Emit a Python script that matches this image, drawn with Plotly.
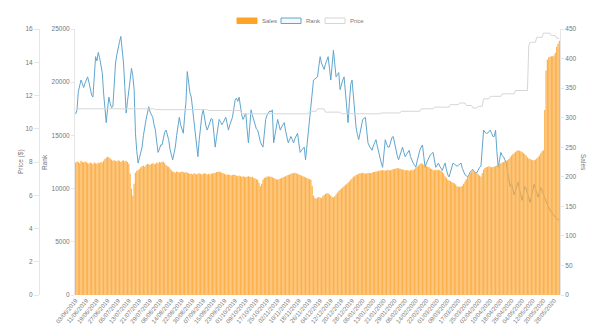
import pandas as pd
import plotly.graph_objects as go

# Daily categories, one bar / point per day
dates = pd.date_range("2019-06-03", periods=365, freq="D").strftime("%d/%m/%Y").tolist()
tick_labels = dates[::8]

sales = [
    224, 226, 225, 223, 227, 225, 224, 226, 225, 223,
    222, 224, 223, 221, 224, 223, 222, 224, 223, 225,
    224, 227, 230, 232, 234, 233, 231, 229, 227, 228,
    227, 226, 228, 227, 225, 227, 228, 226, 227, 225,
    222, 205, 180, 168, 188, 207, 210, 211, 213, 216,
    218, 219, 217, 220, 222, 221, 220, 222, 223, 221,
    222, 224, 223, 225, 224, 225, 226, 223, 220, 218,
    217, 214, 211, 209, 208, 207, 209, 208, 207, 208,
    209, 208, 207, 208, 207, 206, 205, 205, 204, 206,
    205, 204, 205, 206, 205, 204, 205, 206, 205, 204,
    205, 204, 205, 206, 206, 207, 208, 208, 209, 208,
    207, 206, 205, 204, 203, 204, 203, 202, 203, 204,
    203, 202, 201, 202, 201, 200, 201, 200, 199, 200,
    201, 200, 199, 200, 198, 197, 196, 195, 190, 184,
    188, 195, 198, 199, 200, 201, 200, 200, 199, 198,
    197, 196, 195, 196, 197, 198, 199, 200, 201, 202,
    203, 204, 205, 206, 206, 207, 206, 205, 204, 203,
    202, 201, 200, 199, 198, 197, 196, 195, 185, 168,
    164, 163, 165, 166, 165, 164, 167, 169, 171, 172,
    172, 170, 168, 166, 165, 167, 170, 173, 176, 178,
    180, 182, 184, 186, 188, 190, 192, 195, 197, 200,
    201, 203, 204, 205, 206, 206, 207, 206, 205, 206,
    206, 207, 206, 207, 208, 208, 209, 209, 210, 210,
    211, 211, 211, 210, 211, 212, 211, 211, 212, 213,
    213, 214, 215, 214, 214, 213, 212, 212, 211, 211,
    211, 210, 211, 212, 211, 213, 215, 217, 219, 221,
    223, 222, 220, 219, 218, 217, 216, 214, 213, 211,
    211, 212, 211, 212, 211, 210, 208, 205, 201, 198,
    195, 194, 193, 191, 190, 189, 187, 184, 183, 183,
    183, 185, 188, 192, 196, 200, 203, 206, 209, 211,
    209, 207, 206, 204, 202, 200, 206, 212, 215, 216,
    217, 218, 217, 216, 217, 217, 218, 219, 220, 222,
    223, 224, 225, 226, 227, 228, 230, 233, 236, 238,
    240, 242, 244, 245, 244, 243, 242, 240, 238, 236,
    233, 231, 230, 229, 228, 228, 229, 231, 233, 236,
    240, 243, 245, 313, 380, 398, 402, 403, 404, 404,
    405, 410, 420, 425, 430,
]

rank = [
    17000, 17400, 19100, 19800, 20200, 19900, 19500, 19900, 20300, 20500,
    20000, 19300, 18800, 18600, 20500, 22400, 22000, 22800, 22300, 21500,
    20900, 19000, 17200, 16200, 17500, 18600, 18000, 17600, 17700, 19800,
    21800, 22600, 23400, 23800, 24300, 23000, 21800, 19500, 17100, 18200,
    19000, 20200, 21300, 20600, 19300, 15200, 13500, 12400, 12900, 13500,
    13900, 15000, 15900, 16500, 17100, 17700, 17200, 16900, 16700, 16000,
    15500, 14400, 13400, 13700, 14100, 14100, 14700, 15300, 15500, 15000,
    14600, 13700, 13000, 12700, 13300, 13900, 15000, 16000, 16700, 16000,
    15500, 15200, 16800, 18100, 21000, 19800, 19000, 18600, 17500, 16500,
    15000, 13800, 13000, 14600, 16200, 16900, 17400, 16500, 15900, 15500,
    15800, 16200, 16600, 16500, 15200, 13900, 14800, 15700, 16500, 16300,
    16000, 16200, 16500, 16700, 16100, 15500, 16000, 16400, 16700, 17500,
    18300, 18500, 18200, 18600, 17500, 16900, 16500, 16800, 17100, 15600,
    14300, 15800, 17400, 16900, 16500, 16000, 15600, 15500, 14900, 14400,
    14100, 13900, 15200, 16500, 16900, 17100, 17300, 17200, 17400, 14300,
    15200, 16000, 16500, 16000, 15500, 15800, 16000, 16200, 15400, 14800,
    14300, 14600, 14900, 14600, 14300, 14700, 15000, 15200, 14200, 13400,
    13600, 13800, 13900, 12700, 14000, 15500, 16900, 18300, 19300, 20200,
    20300, 20400, 20500, 21500, 22400, 21800, 21400, 21200, 21700, 22100,
    22400, 21300, 20200, 21600, 23000, 21700, 20500, 20700, 20900, 19300,
    19800, 20200, 20500, 19000, 17500, 16200, 18100, 19800, 20200, 18400,
    16800, 15800, 15100, 14600, 15200, 15900, 16500, 16600, 16700, 15500,
    14300, 14000, 13800, 13600, 14000, 14300, 14600, 14000, 13400, 12900,
    12400, 12000, 13300, 14600, 14200, 13900, 13900, 14400, 14800, 14900,
    14200, 13600, 13100, 12700, 13100, 13500, 13900, 13400, 13000, 13200,
    13400, 13600, 13000, 12600, 12400, 12200, 12000, 12600, 13300, 13600,
    13900, 14100, 13000, 12000, 12400, 12700, 13000, 13200, 13300, 13400,
    12700, 12000, 12200, 12400, 12100, 11900, 11700, 12100, 12400, 11800,
    11300, 11100, 11500, 11800, 12400, 12300, 12200, 12100, 12200, 12300,
    12400, 11900, 11500, 11300, 11200, 11100, 11300, 11600, 11700, 11800,
    11600, 11500, 11500, 11800, 12000, 12100, 14000, 15500, 15300, 15200,
    15200, 15400, 15500, 15200, 14900, 14900, 15500, 13500, 12000, 12700,
    13400, 13100, 13000, 12700, 12400, 11600, 10800, 10200, 10500, 10000,
    9400, 9800, 10300, 10600, 9900, 9300, 8900, 9500, 10200, 10000,
    9600, 9100, 8700, 9300, 9900, 10400, 10000, 9500, 9200, 9600,
    10100, 9800, 9400, 9100, 8800, 8500, 8200, 8000, 7800, 7600,
    7400, 7300, 7200, 7100, 7000,
]

price = [
    11.2, 11.2, 11.2, 11.2, 11.2, 11.2, 11.2, 11.2, 11.2, 11.2,
    11.2, 11.2, 11.2, 11.2, 11.2, 11.2, 11.2, 11.2, 11.2, 11.2,
    11.2, 11.2, 11.2, 11.2, 11.2, 11.2, 11.2, 11.2, 11.2, 11.2,
    11.2, 11.2, 11.2, 11.2, 11.2, 11.2, 11.2, 11.2, 11.2, 11.2,
    11.2, 11.2, 11.2, 11.2, 11.2, 11.2, 11.2, 11.2, 11.2, 11.2,
    11.2, 11.2, 11.2, 11.2, 11.2, 11.2, 11.2, 11.2, 11.2, 11.2,
    11.15, 11.15, 11.15, 11.15, 11.15, 11.15, 11.15, 11.15, 11.15, 11.15,
    11.15, 11.15, 11.15, 11.15, 11.15, 11.15, 11.15, 11.15, 11.15, 11.15,
    11.15, 11.15, 11.15, 11.15, 11.15, 11.15, 11.15, 11.15, 11.15, 11.15,
    11.15, 11.15, 11.15, 11.15, 11.15, 11.15, 11.15, 11.15, 11.15, 11.15,
    11.1, 11.1, 11.1, 11.1, 11.1, 11.1, 11.1, 11.1, 11.1, 11.1,
    11.1, 11.1, 11.1, 11.1, 11.1, 11.1, 11.1, 11.1, 11.1, 11.1,
    11.1, 11.1, 11.1, 11.1, 11.1, 10.9, 10.9, 10.9, 10.9, 10.9,
    10.9, 10.9, 10.9, 10.9, 10.9, 10.9, 10.9, 10.9, 10.9, 10.9,
    10.9, 10.9, 10.9, 10.9, 10.9, 10.9, 10.9, 10.9, 10.9, 10.9,
    10.9, 10.9, 10.9, 10.9, 10.9, 10.9, 10.9, 10.9, 10.9, 10.9,
    10.9, 10.9, 10.9, 10.9, 10.9, 10.9, 10.9, 10.9, 10.9, 10.9,
    10.9, 10.9, 10.9, 10.9, 10.9, 10.9, 11.05, 11.05, 11.05, 11.05,
    11.05, 11.05, 11.2, 11.2, 11.2, 11.2, 11.2, 11.2, 11.0, 11.0,
    11.0, 11.0, 11.0, 11.0, 11.0, 11.0, 11.0, 11.0, 11.0, 11.0,
    10.9, 10.9, 10.9, 10.9, 10.9, 10.9, 10.9, 10.9, 10.9, 10.9,
    10.9, 10.9, 10.9, 10.9, 10.9, 10.9, 10.9, 10.9, 10.9, 10.9,
    10.9, 10.9, 10.9, 10.9, 10.9, 10.9, 10.9, 10.9, 10.9, 10.9,
    10.95, 10.95, 10.95, 10.95, 10.95, 10.95, 10.95, 10.95, 10.95, 10.95,
    10.95, 10.95, 10.95, 10.95, 10.95, 11.05, 11.05, 11.05, 11.05, 11.05,
    11.05, 11.05, 11.05, 11.05, 11.05, 11.05, 11.05, 11.05, 11.05, 11.05,
    11.2, 11.2, 11.2, 11.2, 11.2, 11.2, 11.2, 11.2, 11.2, 11.2,
    11.3, 11.3, 11.3, 11.3, 11.3, 11.3, 11.3, 11.3, 11.3, 11.3,
    11.3, 11.3, 11.45, 11.45, 11.45, 11.45, 11.45, 11.45, 11.45, 11.55,
    11.55, 11.55, 11.55, 11.55, 11.4, 11.4, 11.4, 11.4, 11.4, 11.25,
    11.25, 11.25, 11.25, 11.35, 11.35, 11.35, 11.35, 11.8, 11.8, 11.8,
    11.8, 11.8, 11.95, 11.95, 11.95, 11.95, 11.95, 11.95, 11.95, 11.95,
    11.95, 12.1, 12.1, 12.1, 12.1, 12.1, 12.1, 12.1, 12.1, 12.1,
    12.1, 12.3, 12.3, 12.3, 12.3, 12.3, 12.3, 12.3, 12.3, 12.3,
    12.3, 15.0, 15.2, 15.2, 15.2, 15.2, 15.2, 15.5, 15.5, 15.5,
    15.5, 15.5, 15.75, 15.75, 15.75, 15.75, 15.75, 15.75, 15.6, 15.6,
    15.6, 15.6, 15.45, 15.45, 15.45,
]

W, H = 602, 336
FONT = "Liberation Sans, Arial, sans-serif"
TXT = "#777777"
SALES_FILL = "rgba(252,168,58,0.9)"
RANK_COL = "rgb(96,166,206)"
PRICE_COL = "#d6d6d6"
AXIS_COL = "#e6e6e6"


def fx(x):
    return x / W


def fy(y):
    return 1 - y / H


fig = go.Figure()
# Lines sit on the base and first overlay; the sales bars go on the last
# overlay so they are painted over both lines.
fig.add_trace(go.Scatter(x=dates, y=rank, name="Rank", mode="lines",
                         line=dict(color=RANK_COL, width=1), yaxis="y"))
fig.add_trace(go.Scatter(x=dates, y=price, name="Price", mode="lines",
                         line=dict(color=PRICE_COL, width=1), yaxis="y2"))
fig.add_trace(go.Bar(x=dates, y=sales, name="Sales",
                     marker=dict(color=SALES_FILL, line=dict(width=0)), yaxis="y3"))

tick_font = dict(family=FONT, size=6.5, color=TXT)
y_dom = [fy(295), fy(29)]

fig.update_layout(
    width=W, height=H,
    margin=dict(l=0, r=0, t=0, b=0),
    paper_bgcolor="white", plot_bgcolor="white",
    showlegend=False,
    bargap=0.08,
    xaxis=dict(domain=[fx(75), fx(560)], type="category",
               range=[-0.5, len(dates) - 0.5],
               tickmode="array", tickvals=tick_labels, ticktext=tick_labels,
               tickangle=-50, tickfont=dict(family=FONT, size=6, color=TXT),
               showgrid=False, showline=False, zeroline=False, ticks="",
               automargin=False),
    # Rank (inner left)
    yaxis=dict(domain=y_dom, anchor="x", side="left",
               range=[0, 25000], dtick=5000, tickformat="d",
               tickfont=tick_font, ticks="outside", ticklen=3, tickcolor=AXIS_COL,
               showline=True, linecolor=AXIS_COL, showgrid=False, zeroline=False,
               automargin=False),
    # Price (outer left)
    yaxis2=dict(overlaying="y", anchor="free", position=fx(39), side="left",
                range=[0, 16], dtick=2, tickfont=tick_font,
                ticks="outside", ticklen=5, tickcolor=AXIS_COL,
                showline=True, linecolor=AXIS_COL, showgrid=False, zeroline=False,
                automargin=False),
    # Sales (right)
    yaxis3=dict(overlaying="y", anchor="x", side="right",
                range=[0, 450], dtick=50, tickfont=tick_font,
                ticks="outside", ticklen=3, tickcolor=AXIS_COL,
                showline=True, linecolor=AXIS_COL, showgrid=False, zeroline=False,
                automargin=False),
)

# Axis titles
title_font = dict(family=FONT, size=6.5, color=TXT)
for text, x, ang in [("Price ($)", 21, -90), ("Rank", 44, -90), ("Sales", 584, 90)]:
    fig.add_annotation(text=text, x=fx(x), y=fy(162), xref="paper", yref="paper",
                       showarrow=False, textangle=ang, font=title_font,
                       xanchor="center", yanchor="middle")

# Legend: coloured boxes with labels
legend_items = [
    ("Sales", 237, "#ffa324", "#ffa324"),
    ("Rank", 281, "rgba(96,166,206,0.08)", RANK_COL),
    ("Price", 325, "rgba(0,0,0,0)", PRICE_COL),
]
for label, x0, fill, edge in legend_items:
    fig.add_shape(type="rect", xref="paper", yref="paper",
                  x0=fx(x0), x1=fx(x0 + 20), y0=fy(23.5), y1=fy(18),
                  fillcolor=fill, line=dict(color=edge, width=1))
    fig.add_annotation(text=label, x=fx(x0 + 23), y=fy(21), xref="paper", yref="paper",
                       showarrow=False, xanchor="left", yanchor="middle",
                       font=dict(family=FONT, size=6, color=TXT))

fig.write_html("out.html")
